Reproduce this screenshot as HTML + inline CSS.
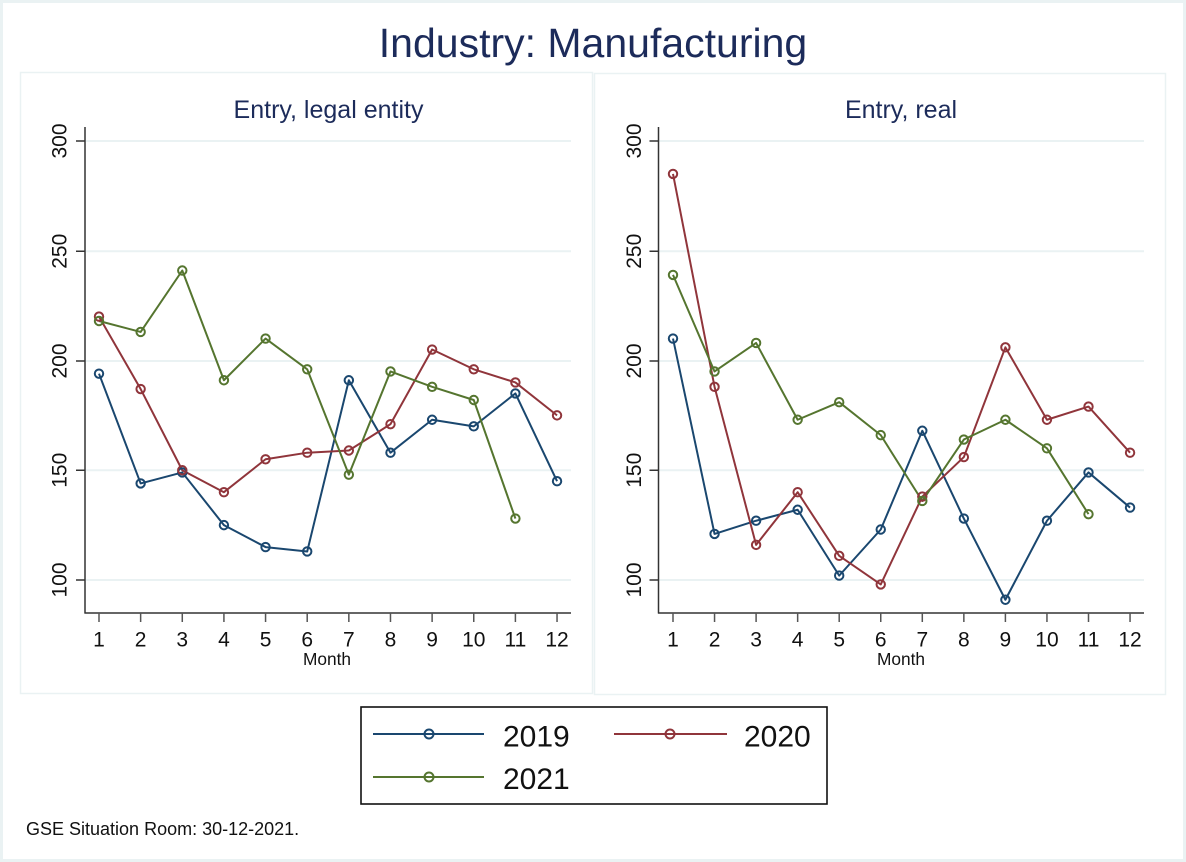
<!DOCTYPE html>
<html>
<head>
<meta charset="utf-8">
<style>
  html, body { margin:0; padding:0; background:#ffffff; }
  svg { display:block; }
  text { font-family: "Liberation Sans", Arial, sans-serif; }
</style>
</head>
<body>
<svg width="1186" height="862" viewBox="0 0 1186 862" xmlns="http://www.w3.org/2000/svg">
  <rect x="0" y="0" width="1186" height="862" fill="#ffffff"/>
  <rect x="1.5" y="1.5" width="1183" height="859" fill="none" stroke="#eaf2f3" stroke-width="3"/>

  <text x="593" y="57" font-size="41" fill="#1c2b5a" text-anchor="middle">Industry: Manufacturing</text>

  <rect x="20.5" y="72.5" width="572" height="621" fill="#ffffff" stroke="#eaf2f3" stroke-width="1.5"/>
  <rect x="594.5" y="73.5" width="571" height="621" fill="#ffffff" stroke="#eaf2f3" stroke-width="1.5"/>

  <text x="328.5" y="118" font-size="25" fill="#1c2b5a" text-anchor="middle">Entry, legal entity</text>
  <text x="901" y="118" font-size="25" fill="#1c2b5a" text-anchor="middle">Entry, real</text>

  <!-- LEFT PANEL -->
  <g stroke="#eaf2f3" stroke-width="2">
    <line x1="86" y1="141" x2="571" y2="141"/>
    <line x1="86" y1="251.25" x2="571" y2="251.25"/>
    <line x1="86" y1="361" x2="571" y2="361"/>
    <line x1="86" y1="470.25" x2="571" y2="470.25"/>
    <line x1="86" y1="580" x2="571" y2="580"/>
  </g>
  <g stroke="#333333" stroke-width="1.5">
    <line x1="85" y1="127" x2="85" y2="613.5"/>
    <line x1="84.5" y1="613" x2="571" y2="613"/>
    <line x1="76" y1="141" x2="85" y2="141"/>
    <line x1="76" y1="251.25" x2="85" y2="251.25"/>
    <line x1="76" y1="361" x2="85" y2="361"/>
    <line x1="76" y1="470.25" x2="85" y2="470.25"/>
    <line x1="76" y1="580" x2="85" y2="580"/>
  </g>
  <g stroke="#555555" stroke-width="1.5">
    <line x1="99" y1="613" x2="99" y2="622"/>
    <line x1="140.64" y1="613" x2="140.64" y2="622"/>
    <line x1="182.28" y1="613" x2="182.28" y2="622"/>
    <line x1="223.92" y1="613" x2="223.92" y2="622"/>
    <line x1="265.56" y1="613" x2="265.56" y2="622"/>
    <line x1="307.2" y1="613" x2="307.2" y2="622"/>
    <line x1="348.84" y1="613" x2="348.84" y2="622"/>
    <line x1="390.48" y1="613" x2="390.48" y2="622"/>
    <line x1="432.12" y1="613" x2="432.12" y2="622"/>
    <line x1="473.76" y1="613" x2="473.76" y2="622"/>
    <line x1="515.4" y1="613" x2="515.4" y2="622"/>
    <line x1="557.04" y1="613" x2="557.04" y2="622"/>
  </g>
  <g font-size="21" fill="#111111" text-anchor="middle">
    <text transform="translate(66.5,141) rotate(-90)">300</text>
    <text transform="translate(66.5,251.25) rotate(-90)">250</text>
    <text transform="translate(66.5,361) rotate(-90)">200</text>
    <text transform="translate(66.5,470.25) rotate(-90)">150</text>
    <text transform="translate(66.5,580) rotate(-90)">100</text>
    <text x="99" y="646.5">1</text>
    <text x="140.64" y="646.5">2</text>
    <text x="182.28" y="646.5">3</text>
    <text x="223.92" y="646.5">4</text>
    <text x="265.56" y="646.5">5</text>
    <text x="307.2" y="646.5">6</text>
    <text x="348.84" y="646.5">7</text>
    <text x="390.48" y="646.5">8</text>
    <text x="432.12" y="646.5">9</text>
    <text x="473.76" y="646.5">10</text>
    <text x="515.4" y="646.5">11</text>
    <text x="557.04" y="646.5">12</text>
  </g>
  <text x="327" y="665" font-size="17.3" fill="#111111" text-anchor="middle">Month</text>

  <g fill="none" stroke-width="2" stroke-linejoin="round">
    <polyline stroke="#1a476f" points="99,373.67 140.64,483.42 182.28,472.44 223.92,525.12 265.56,547.07 307.2,551.46 348.84,380.25 390.48,452.69 432.12,419.76 473.76,426.35 515.4,393.42 557.04,481.22"/>
    <polyline stroke="#90353b" points="99,316.6 140.64,389.03 182.28,470.25 223.92,492.2 265.56,459.27 307.2,452.69 348.84,450.49 390.48,424.15 432.12,349.52 473.76,369.28 515.4,382.45 557.04,415.37"/>
    <polyline stroke="#55752f" points="99,320.99 140.64,331.96 182.28,270.5 223.92,380.25 265.56,338.55 307.2,369.28 348.84,474.64 390.48,371.47 432.12,386.84 473.76,400.01 515.4,518.54"/>
  </g>
  <g fill="none" stroke-width="2">
    <g stroke="#1a476f">
      <circle cx="99" cy="373.67" r="4.2"/><circle cx="140.64" cy="483.42" r="4.2"/><circle cx="182.28" cy="472.44" r="4.2"/><circle cx="223.92" cy="525.12" r="4.2"/><circle cx="265.56" cy="547.07" r="4.2"/><circle cx="307.2" cy="551.46" r="4.2"/><circle cx="348.84" cy="380.25" r="4.2"/><circle cx="390.48" cy="452.69" r="4.2"/><circle cx="432.12" cy="419.76" r="4.2"/><circle cx="473.76" cy="426.35" r="4.2"/><circle cx="515.4" cy="393.42" r="4.2"/><circle cx="557.04" cy="481.22" r="4.2"/>
    </g>
    <g stroke="#90353b">
      <circle cx="99" cy="316.6" r="4.2"/><circle cx="140.64" cy="389.03" r="4.2"/><circle cx="182.28" cy="470.25" r="4.2"/><circle cx="223.92" cy="492.2" r="4.2"/><circle cx="265.56" cy="459.27" r="4.2"/><circle cx="307.2" cy="452.69" r="4.2"/><circle cx="348.84" cy="450.49" r="4.2"/><circle cx="390.48" cy="424.15" r="4.2"/><circle cx="432.12" cy="349.52" r="4.2"/><circle cx="473.76" cy="369.28" r="4.2"/><circle cx="515.4" cy="382.45" r="4.2"/><circle cx="557.04" cy="415.37" r="4.2"/>
    </g>
    <g stroke="#55752f">
      <circle cx="99" cy="320.99" r="4.2"/><circle cx="140.64" cy="331.96" r="4.2"/><circle cx="182.28" cy="270.5" r="4.2"/><circle cx="223.92" cy="380.25" r="4.2"/><circle cx="265.56" cy="338.55" r="4.2"/><circle cx="307.2" cy="369.28" r="4.2"/><circle cx="348.84" cy="474.64" r="4.2"/><circle cx="390.48" cy="371.47" r="4.2"/><circle cx="432.12" cy="386.84" r="4.2"/><circle cx="473.76" cy="400.01" r="4.2"/><circle cx="515.4" cy="518.54" r="4.2"/>
    </g>
  </g>

  <!-- RIGHT PANEL -->
  <g stroke="#eaf2f3" stroke-width="2">
    <line x1="659" y1="141" x2="1144" y2="141"/>
    <line x1="659" y1="251.25" x2="1144" y2="251.25"/>
    <line x1="659" y1="361" x2="1144" y2="361"/>
    <line x1="659" y1="470.25" x2="1144" y2="470.25"/>
    <line x1="659" y1="580" x2="1144" y2="580"/>
  </g>
  <g stroke="#333333" stroke-width="1.5">
    <line x1="658.5" y1="127" x2="658.5" y2="613.5"/>
    <line x1="658" y1="613" x2="1144" y2="613"/>
    <line x1="649.5" y1="141" x2="658.5" y2="141"/>
    <line x1="649.5" y1="251.25" x2="658.5" y2="251.25"/>
    <line x1="649.5" y1="361" x2="658.5" y2="361"/>
    <line x1="649.5" y1="470.25" x2="658.5" y2="470.25"/>
    <line x1="649.5" y1="580" x2="658.5" y2="580"/>
  </g>
  <g stroke="#555555" stroke-width="1.5">
    <line x1="673" y1="613" x2="673" y2="622"/>
    <line x1="714.55" y1="613" x2="714.55" y2="622"/>
    <line x1="756.1" y1="613" x2="756.1" y2="622"/>
    <line x1="797.65" y1="613" x2="797.65" y2="622"/>
    <line x1="839.2" y1="613" x2="839.2" y2="622"/>
    <line x1="880.75" y1="613" x2="880.75" y2="622"/>
    <line x1="922.3" y1="613" x2="922.3" y2="622"/>
    <line x1="963.85" y1="613" x2="963.85" y2="622"/>
    <line x1="1005.4" y1="613" x2="1005.4" y2="622"/>
    <line x1="1046.95" y1="613" x2="1046.95" y2="622"/>
    <line x1="1088.5" y1="613" x2="1088.5" y2="622"/>
    <line x1="1130.05" y1="613" x2="1130.05" y2="622"/>
  </g>
  <g font-size="21" fill="#111111" text-anchor="middle">
    <text transform="translate(641,141) rotate(-90)">300</text>
    <text transform="translate(641,251.25) rotate(-90)">250</text>
    <text transform="translate(641,361) rotate(-90)">200</text>
    <text transform="translate(641,470.25) rotate(-90)">150</text>
    <text transform="translate(641,580) rotate(-90)">100</text>
    <text x="673" y="646.5">1</text>
    <text x="714.55" y="646.5">2</text>
    <text x="756.1" y="646.5">3</text>
    <text x="797.65" y="646.5">4</text>
    <text x="839.2" y="646.5">5</text>
    <text x="880.75" y="646.5">6</text>
    <text x="922.3" y="646.5">7</text>
    <text x="963.85" y="646.5">8</text>
    <text x="1005.4" y="646.5">9</text>
    <text x="1046.95" y="646.5">10</text>
    <text x="1088.5" y="646.5">11</text>
    <text x="1130.05" y="646.5">12</text>
  </g>
  <text x="901" y="665" font-size="17.3" fill="#111111" text-anchor="middle">Month</text>

  <g fill="none" stroke-width="2" stroke-linejoin="round">
    <polyline stroke="#1a476f" points="673,338.55 714.55,533.9 756.1,520.73 797.65,509.76 839.2,575.61 880.75,529.51 922.3,430.74 963.85,518.54 1005.4,599.75 1046.95,520.73 1088.5,472.44 1130.05,507.56"/>
    <polyline stroke="#90353b" points="673,173.92 714.55,386.84 756.1,544.88 797.65,492.2 839.2,555.85 880.75,584.39 922.3,496.59 963.85,457.08 1005.4,347.33 1046.95,419.76 1088.5,406.59 1130.05,452.69"/>
    <polyline stroke="#55752f" points="673,274.89 714.55,371.47 756.1,342.94 797.65,419.76 839.2,402.2 880.75,435.13 922.3,500.98 963.85,439.52 1005.4,419.76 1046.95,448.3 1088.5,514.15"/>
  </g>
  <g fill="none" stroke-width="2">
    <g stroke="#1a476f">
      <circle cx="673" cy="338.55" r="4.2"/><circle cx="714.55" cy="533.9" r="4.2"/><circle cx="756.1" cy="520.73" r="4.2"/><circle cx="797.65" cy="509.76" r="4.2"/><circle cx="839.2" cy="575.61" r="4.2"/><circle cx="880.75" cy="529.51" r="4.2"/><circle cx="922.3" cy="430.74" r="4.2"/><circle cx="963.85" cy="518.54" r="4.2"/><circle cx="1005.4" cy="599.75" r="4.2"/><circle cx="1046.95" cy="520.73" r="4.2"/><circle cx="1088.5" cy="472.44" r="4.2"/><circle cx="1130.05" cy="507.56" r="4.2"/>
    </g>
    <g stroke="#90353b">
      <circle cx="673" cy="173.92" r="4.2"/><circle cx="714.55" cy="386.84" r="4.2"/><circle cx="756.1" cy="544.88" r="4.2"/><circle cx="797.65" cy="492.2" r="4.2"/><circle cx="839.2" cy="555.85" r="4.2"/><circle cx="880.75" cy="584.39" r="4.2"/><circle cx="922.3" cy="496.59" r="4.2"/><circle cx="963.85" cy="457.08" r="4.2"/><circle cx="1005.4" cy="347.33" r="4.2"/><circle cx="1046.95" cy="419.76" r="4.2"/><circle cx="1088.5" cy="406.59" r="4.2"/><circle cx="1130.05" cy="452.69" r="4.2"/>
    </g>
    <g stroke="#55752f">
      <circle cx="673" cy="274.89" r="4.2"/><circle cx="714.55" cy="371.47" r="4.2"/><circle cx="756.1" cy="342.94" r="4.2"/><circle cx="797.65" cy="419.76" r="4.2"/><circle cx="839.2" cy="402.2" r="4.2"/><circle cx="880.75" cy="435.13" r="4.2"/><circle cx="922.3" cy="500.98" r="4.2"/><circle cx="963.85" cy="439.52" r="4.2"/><circle cx="1005.4" cy="419.76" r="4.2"/><circle cx="1046.95" cy="448.3" r="4.2"/><circle cx="1088.5" cy="514.15" r="4.2"/>
    </g>
  </g>

  <!-- LEGEND -->
  <rect x="361" y="707" width="466" height="97" fill="#ffffff" stroke="#111111" stroke-width="1.6"/>
  <g stroke-width="2" fill="none">
    <line x1="373" y1="734" x2="484" y2="734" stroke="#1a476f"/>
    <circle cx="429" cy="734" r="4.5" stroke="#1a476f" stroke-width="2"/>
    <line x1="614" y1="734" x2="727" y2="734" stroke="#90353b"/>
    <circle cx="670" cy="734" r="4.5" stroke="#90353b" stroke-width="2"/>
    <line x1="373" y1="777" x2="484" y2="777" stroke="#55752f"/>
    <circle cx="429" cy="777" r="4.5" stroke="#55752f" stroke-width="2"/>
  </g>
  <g font-size="30" fill="#111111">
    <text x="503" y="746.5">2019</text>
    <text x="744" y="746.5">2020</text>
    <text x="503" y="789">2021</text>
  </g>

  <text x="26" y="835" font-size="18" fill="#111111">GSE Situation Room: 30-12-2021.</text>
</svg>
</body>
</html>
